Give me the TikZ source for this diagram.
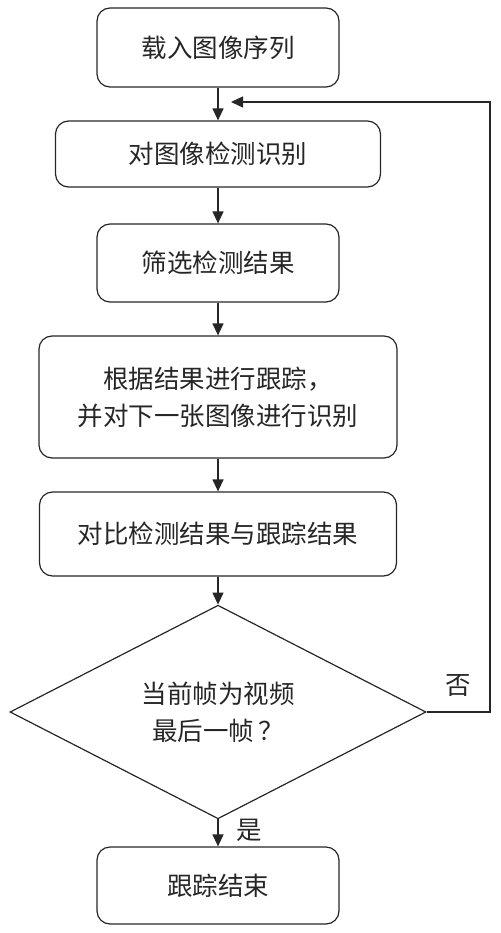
\documentclass[tikz,border=0pt]{standalone}
\usepackage{fontspec}
\newfontfamily\cjk{Noto Sans CJK SC}
\usetikzlibrary{shapes.geometric,arrows.meta}
\begin{document}
\begin{tikzpicture}[x=1pt,y=-1pt,
  every node/.style={font=\cjk\fontsize{25.5}{37}\selectfont, text=black!85},
  stepbox/.style={draw=black!85, line width=1.2pt, rounded corners=13pt, inner sep=0pt, align=center},
  decbox/.style={draw=black!85, line width=1.2pt, diamond, inner sep=0pt, align=center, minimum width=416pt, minimum height=198pt},
  flow/.style={draw=black!85, line width=1.2pt, -{Triangle[length=12pt,width=11pt]}},
  lbl/.style={inner sep=0pt}]
\useasboundingbox (0,0) rectangle (500,933);
\node[stepbox, minimum width=242pt, minimum height=79pt] (b1) at (218,47.5) {载入图像序列};
\node[stepbox, minimum width=325pt, minimum height=66pt] (b2) at (218,154) {对图像检测识别};
\node[stepbox, minimum width=242pt, minimum height=78pt] (b3) at (218,263) {筛选检测结果};
\node[stepbox, minimum width=358pt, minimum height=122pt] (b4) at (218,397) {根据结果进行跟踪，\\并对下一张图像进行识别};
\node[stepbox, minimum width=357pt, minimum height=84pt] (b5) at (218,534) {对比检测结果与跟踪结果};
\node[decbox] (d) at (218,712) {当前帧为视频\\最后一帧\,？};
\node[stepbox, minimum width=242pt, minimum height=77pt] (b6) at (218,885.5) {跟踪结束};
\coordinate (loopend) at (231,102);
\coordinate (loopcorner) at (490,102);
\draw[flow] (b1) -- (b2);
\draw[flow] (b2) -- (b3);
\draw[flow] (b3) -- (b4);
\draw[flow] (b4) -- (b5);
\draw[flow] (b5) -- (d);
\draw[flow] (d) -- (b6);
\draw[flow] (d.east) -| (loopcorner) -- (loopend);
\node[lbl] (no) at (458,686) {否};
\node[lbl] (yes) at (249,830) {是};
\end{tikzpicture}
\end{document}
